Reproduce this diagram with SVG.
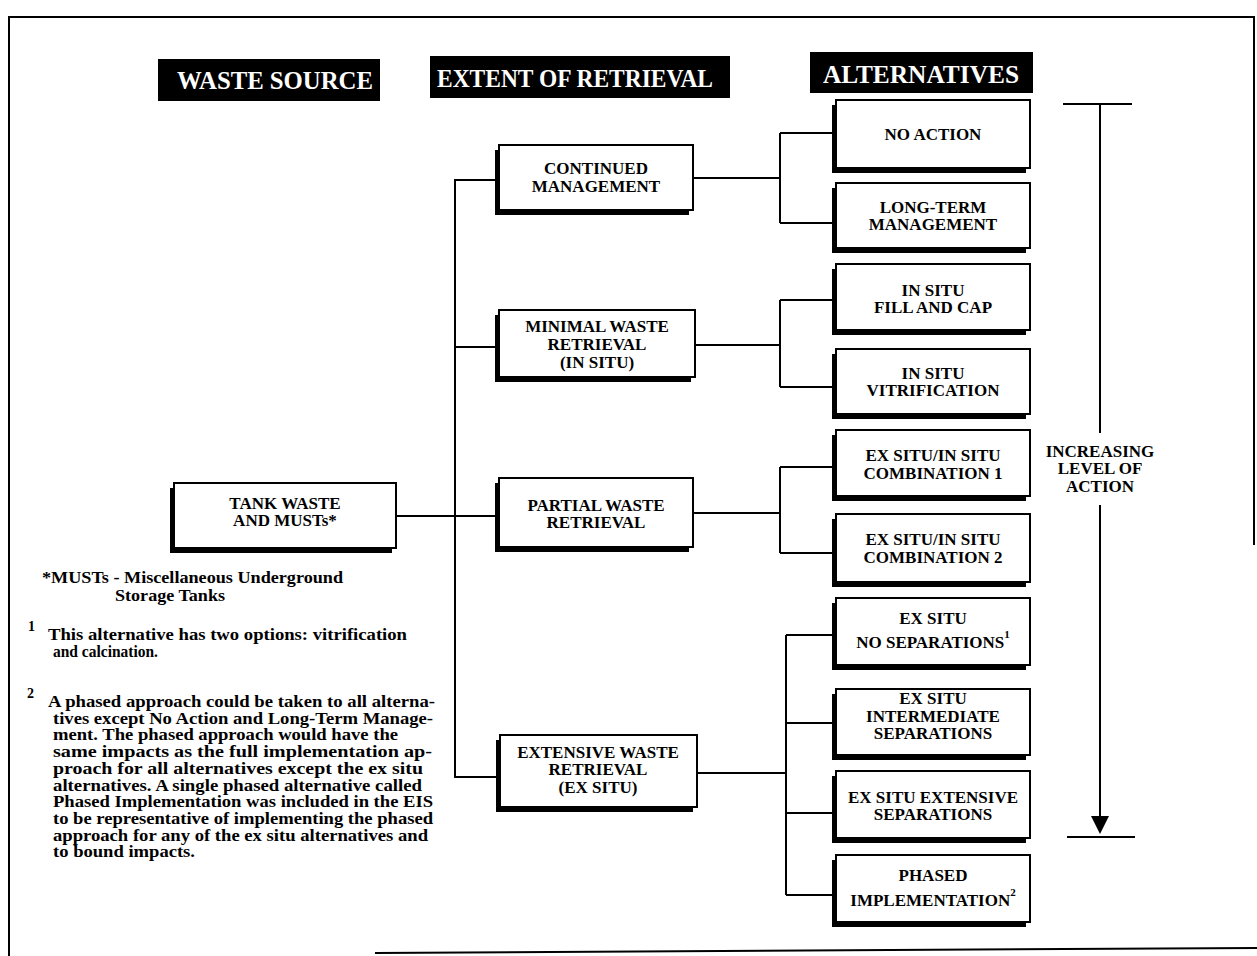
<svg xmlns="http://www.w3.org/2000/svg" width="1257" height="956" viewBox="0 0 1257 956">
<defs>
<style>
.bd{fill:none;stroke:#000;stroke-width:2}
.sh{fill:#000}
.bx{fill:#fff;stroke:#000;stroke-width:2}
.hd{fill:#000}
.ht{font-family:"Liberation Serif","Times New Roman",serif;font-weight:bold;font-size:25px;fill:#fff}
.lb{font-family:"Liberation Serif","Times New Roman",serif;font-weight:bold;font-size:17px;fill:#000;text-anchor:middle}
.fn{font-family:"Liberation Serif","Times New Roman",serif;font-weight:bold;font-size:16px;fill:#000}
.sp{font-family:"Liberation Serif","Times New Roman",serif;font-weight:bold;font-size:14px;fill:#000}
.cn{fill:none;stroke:#000;stroke-width:2}
</style>
</defs>
<rect width="1257" height="956" fill="#fff"/>
<g id="border">
<path class="bd" d="M9,956 V17 H1254 V545"/>
<path class="bd" d="M375,953 L1257,948"/>
</g>
<g id="headers">
<g id="h-waste-source"><rect class="hd" x="158" y="59" width="222" height="42"/><text class="ht" x="177" y="89" textLength="196" lengthAdjust="spacingAndGlyphs">WASTE SOURCE</text></g>
<g id="h-extent"><rect class="hd" x="430" y="56" width="300" height="42"/><text class="ht" x="437" y="87" textLength="276" lengthAdjust="spacingAndGlyphs">EXTENT OF RETRIEVAL</text></g>
<g id="h-alternatives"><rect class="hd" x="810" y="52" width="223" height="41"/><text class="ht" x="823" y="83" textLength="196" lengthAdjust="spacingAndGlyphs">ALTERNATIVES</text></g>
</g>
<g id="connectors">
<path class="cn" d="M396,516 H499"/>
<path class="cn" d="M499,180 H455 V777 H500"/>
<path class="cn" d="M455,347 H499"/>
<path class="cn" d="M693,178 H780 M780,133 V223 M780,133 H836 M780,223 H836"/>
<path class="cn" d="M695,345 H780 M780,300 V387 M780,300 H836 M780,387 H836"/>
<path class="cn" d="M693,513 H780 M780,467 V553 M780,467 H836 M780,553 H836"/>
<path class="cn" d="M697,773 H786 M786,635 V895 M786,635 H836 M786,723 H836 M786,813 H836 M786,895 H836"/>
</g>
<g id="n-tank"><rect class="sh" x="170" y="488" width="222" height="65"/><rect class="bx" x="174" y="483" width="222" height="65"/><text class="lb" x="285" y="509" font-size="16">TANK WASTE</text><text class="lb" x="285" y="526" font-size="16">AND MUSTs*</text></g>
<g id="n-continued"><rect class="sh" x="495" y="150" width="194" height="65"/><rect class="bx" x="499" y="145" width="194" height="65"/><text class="lb" x="596" y="174">CONTINUED</text><text class="lb" x="596" y="192">MANAGEMENT</text></g>
<g id="n-minimal"><rect class="sh" x="495" y="315" width="196" height="67"/><rect class="bx" x="499" y="310" width="196" height="67"/><text class="lb" x="597" y="332">MINIMAL WASTE</text><text class="lb" x="597" y="350">RETRIEVAL</text><text class="lb" x="597" y="368">(IN SITU)</text></g>
<g id="n-partial"><rect class="sh" x="495" y="483" width="194" height="69"/><rect class="bx" x="499" y="478" width="194" height="69"/><text class="lb" x="596" y="511">PARTIAL WASTE</text><text class="lb" x="596" y="528">RETRIEVAL</text></g>
<g id="n-extensive"><rect class="sh" x="496" y="740" width="197" height="72"/><rect class="bx" x="500" y="735" width="197" height="72"/><text class="lb" x="598" y="758">EXTENSIVE WASTE</text><text class="lb" x="598" y="775">RETRIEVAL</text><text class="lb" x="598" y="793">(EX SITU)</text></g>
<g id="n-no-action"><rect class="sh" x="832" y="105" width="194" height="68"/><rect class="bx" x="836" y="100" width="194" height="68"/><text class="lb" x="933" y="140">NO ACTION</text></g>
<g id="n-long-term"><rect class="sh" x="832" y="188" width="194" height="65"/><rect class="bx" x="836" y="183" width="194" height="65"/><text class="lb" x="933" y="213">LONG-TERM</text><text class="lb" x="933" y="230">MANAGEMENT</text></g>
<g id="n-fill-cap"><rect class="sh" x="832" y="269" width="194" height="66"/><rect class="bx" x="836" y="264" width="194" height="66"/><text class="lb" x="933" y="296">IN SITU</text><text class="lb" x="933" y="313">FILL AND CAP</text></g>
<g id="n-vitrification"><rect class="sh" x="832" y="354" width="194" height="65"/><rect class="bx" x="836" y="349" width="194" height="65"/><text class="lb" x="933" y="379">IN SITU</text><text class="lb" x="933" y="396">VITRIFICATION</text></g>
<g id="n-comb1"><rect class="sh" x="832" y="435" width="194" height="66"/><rect class="bx" x="836" y="430" width="194" height="66"/><text class="lb" x="933" y="461">EX SITU/IN SITU</text><text class="lb" x="933" y="479">COMBINATION 1</text></g>
<g id="n-comb2"><rect class="sh" x="832" y="519" width="194" height="68"/><rect class="bx" x="836" y="514" width="194" height="68"/><text class="lb" x="933" y="545">EX SITU/IN SITU</text><text class="lb" x="933" y="563">COMBINATION 2</text></g>
<g id="n-no-sep"><rect class="sh" x="832" y="603" width="194" height="67"/><rect class="bx" x="836" y="598" width="194" height="67"/><text class="lb" x="933" y="624">EX SITU</text><text class="lb" x="933" y="648">NO SEPARATIONS<tspan font-size="11" dy="-10">1</tspan></text></g>
<g id="n-intermediate"><rect class="sh" x="832" y="694" width="194" height="66"/><rect class="bx" x="836" y="689" width="194" height="66"/><text class="lb" x="933" y="704">EX SITU</text><text class="lb" x="933" y="722">INTERMEDIATE</text><text class="lb" x="933" y="739">SEPARATIONS</text></g>
<g id="n-extensive-sep"><rect class="sh" x="832" y="776" width="194" height="67"/><rect class="bx" x="836" y="771" width="194" height="67"/><text class="lb" x="933" y="803">EX SITU EXTENSIVE</text><text class="lb" x="933" y="820">SEPARATIONS</text></g>
<g id="n-phased"><rect class="sh" x="832" y="860" width="194" height="67"/><rect class="bx" x="836" y="855" width="194" height="67"/><text class="lb" x="933" y="881">PHASED</text><text class="lb" x="933" y="906">IMPLEMENTATION<tspan font-size="11" dy="-10">2</tspan></text></g>
<g id="level-arrow">
<path class="cn" d="M1063,104 H1132 M1100,104 V433 M1100,505 V820 M1067,837 H1135"/>
<path d="M1091,816 H1109 L1100,834 Z" fill="#000"/>
<text class="lb" x="1100" y="457">INCREASING</text>
<text class="lb" x="1100" y="474">LEVEL OF</text>
<text class="lb" x="1100" y="492">ACTION</text>
</g>
<g id="footnotes">
<text class="fn" x="42" y="583" textLength="301" lengthAdjust="spacingAndGlyphs">*MUSTs - Miscellaneous Underground</text>
<text class="fn" x="115" y="601" textLength="110" lengthAdjust="spacingAndGlyphs">Storage Tanks</text>
<text class="sp" x="28" y="631">1</text>
<text class="fn" x="48" y="640" textLength="359" lengthAdjust="spacingAndGlyphs">This alternative has two options: vitrification</text>
<text class="fn" x="53" y="657" textLength="105" lengthAdjust="spacingAndGlyphs">and calcination.</text>
<text class="sp" x="27" y="698">2</text>
<text class="fn" x="48" y="707" textLength="387" lengthAdjust="spacingAndGlyphs">A phased approach could be taken to all alterna-</text>
<text class="fn" x="53" y="723.7" textLength="380" lengthAdjust="spacingAndGlyphs">tives except No Action and Long-Term Manage-</text>
<text class="fn" x="53" y="740.4" textLength="345" lengthAdjust="spacingAndGlyphs">ment. The phased approach would have the</text>
<text class="fn" x="53" y="757.1" textLength="379" lengthAdjust="spacingAndGlyphs">same impacts as the full implementation ap-</text>
<text class="fn" x="53" y="773.8" textLength="370" lengthAdjust="spacingAndGlyphs">proach for all alternatives except the ex situ</text>
<text class="fn" x="53" y="790.5" textLength="369" lengthAdjust="spacingAndGlyphs">alternatives. A single phased alternative called</text>
<text class="fn" x="53" y="807.2" textLength="380" lengthAdjust="spacingAndGlyphs">Phased Implementation was included in the EIS</text>
<text class="fn" x="53" y="823.9" textLength="380" lengthAdjust="spacingAndGlyphs">to be representative of implementing the phased</text>
<text class="fn" x="53" y="840.6" textLength="375" lengthAdjust="spacingAndGlyphs">approach for any of the ex situ alternatives and</text>
<text class="fn" x="53" y="857.3" textLength="142" lengthAdjust="spacingAndGlyphs">to bound impacts.</text>
</g>
</svg>
